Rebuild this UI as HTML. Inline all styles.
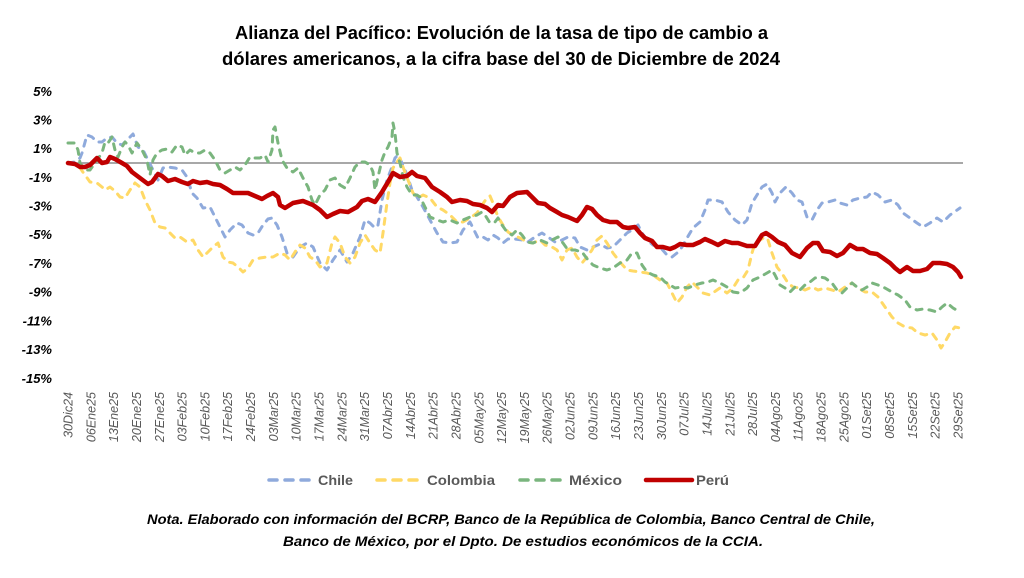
<!DOCTYPE html>
<html><head><meta charset="utf-8"><style>
html,body{margin:0;padding:0;background:#fff;}
svg{display:block;}
</style></head><body>
<svg width="1024" height="578" viewBox="0 0 1024 578" xmlns="http://www.w3.org/2000/svg">
<rect width="1024" height="578" fill="#fff"/>
<g font-family="'Liberation Sans', Arial, sans-serif" font-weight="bold" fill="#000">
<text x="235" y="39" font-size="18" textLength="533" lengthAdjust="spacingAndGlyphs">Alianza del Pacífico: Evolución de la tasa de tipo de cambio a</text>
<text x="222" y="65" font-size="18" textLength="558" lengthAdjust="spacingAndGlyphs">dólares americanos, a la cifra base del 30 de Diciembre de 2024</text>
</g>
<g font-family="'Liberation Sans', Arial, sans-serif" font-weight="bold" font-style="italic" font-size="13" fill="#000" text-anchor="end">
<text x="52" y="96">5%</text>
<text x="52" y="124.5">3%</text>
<text x="52" y="153">1%</text>
<text x="52" y="182">-1%</text>
<text x="52" y="210.5">-3%</text>
<text x="52" y="239">-5%</text>
<text x="52" y="268">-7%</text>
<text x="52" y="296.5">-9%</text>
<text x="52" y="325.5">-11%</text>
<text x="52" y="354">-13%</text>
<text x="52" y="383">-15%</text>
</g>
<g font-family="'Liberation Sans', Arial, sans-serif" font-style="italic" font-size="12.5" fill="#595959" text-anchor="end">
<text transform="translate(72.5,392) rotate(-90)">30Dic24</text>
<text transform="translate(95.3,392) rotate(-90)">06Ene25</text>
<text transform="translate(118.1,392) rotate(-90)">13Ene25</text>
<text transform="translate(141,392) rotate(-90)">20Ene25</text>
<text transform="translate(163.8,392) rotate(-90)">27Ene25</text>
<text transform="translate(186.6,392) rotate(-90)">03Feb25</text>
<text transform="translate(209.4,392) rotate(-90)">10Feb25</text>
<text transform="translate(232.2,392) rotate(-90)">17Feb25</text>
<text transform="translate(255.1,392) rotate(-90)">24Feb25</text>
<text transform="translate(277.9,392) rotate(-90)">03Mar25</text>
<text transform="translate(300.7,392) rotate(-90)">10Mar25</text>
<text transform="translate(323.5,392) rotate(-90)">17Mar25</text>
<text transform="translate(346.3,392) rotate(-90)">24Mar25</text>
<text transform="translate(369.2,392) rotate(-90)">31Mar25</text>
<text transform="translate(392,392) rotate(-90)">07Abr25</text>
<text transform="translate(414.8,392) rotate(-90)">14Abr25</text>
<text transform="translate(437.6,392) rotate(-90)">21Abr25</text>
<text transform="translate(460.4,392) rotate(-90)">28Abr25</text>
<text transform="translate(483.3,392) rotate(-90)">05May25</text>
<text transform="translate(506.1,392) rotate(-90)">12May25</text>
<text transform="translate(528.9,392) rotate(-90)">19May25</text>
<text transform="translate(551.7,392) rotate(-90)">26May25</text>
<text transform="translate(574.5,392) rotate(-90)">02Jun25</text>
<text transform="translate(597.4,392) rotate(-90)">09Jun25</text>
<text transform="translate(620.2,392) rotate(-90)">16Jun25</text>
<text transform="translate(643,392) rotate(-90)">23Jun25</text>
<text transform="translate(665.8,392) rotate(-90)">30Jun25</text>
<text transform="translate(688.6,392) rotate(-90)">07Jul25</text>
<text transform="translate(711.5,392) rotate(-90)">14Jul25</text>
<text transform="translate(734.3,392) rotate(-90)">21Jul25</text>
<text transform="translate(757.1,392) rotate(-90)">28Jul25</text>
<text transform="translate(779.9,392) rotate(-90)">04Ago25</text>
<text transform="translate(802.7,392) rotate(-90)">11Ago25</text>
<text transform="translate(825.6,392) rotate(-90)">18Ago25</text>
<text transform="translate(848.4,392) rotate(-90)">25Ago25</text>
<text transform="translate(871.2,392) rotate(-90)">01Set25</text>
<text transform="translate(894,392) rotate(-90)">08Set25</text>
<text transform="translate(916.8,392) rotate(-90)">15Set25</text>
<text transform="translate(939.7,392) rotate(-90)">22Set25</text>
<text transform="translate(962.5,392) rotate(-90)">29Set25</text>
</g>
<line x1="68" y1="163" x2="963" y2="163" stroke="#8c8c8c" stroke-width="1.5"/>
<g fill="none" stroke-linejoin="round" stroke-linecap="round">
<polyline stroke="#8FAADC" stroke-width="3" stroke-dasharray="6 7" points="68,163 75,162 80,158 82,153 87,135 92,137 97,142 102,142 107,138 112,137 117,143 122,145 127,140 133,134 138,147 143,150 148,160 153,170 158,180 163,168 168,167 175,168 182,170 187,177 192,193 197,198 203,208 210,207 215,217 220,227 225,237 230,230 237,223 242,225 248,233 253,235 258,233 263,225 268,219 272,218 277,225 282,237 287,253 293,257 300,247 307,243 313,247 320,263 327,270 333,260 340,250 347,262 353,253 360,237 365,220 370,223 375,228 378,225 382,200 387,180 392,167 395,158 398,155 402,163 407,175 412,190 417,197 423,207 430,220 437,233 443,242 450,243 457,242 463,230 470,222 475,232 478,238 483,237 488,240 493,235 498,238 503,243 508,239 515,239 522,240 528,242 535,237 542,233 548,237 555,242 562,240 568,237 575,238 580,247 587,250 593,247 600,244 607,248 613,247 620,240 627,233 632,230 638,225 642,233 647,240 653,245 660,247 667,255 672,257 677,253 682,247 687,238 693,228 700,222 705,210 708,200 715,200 722,202 728,212 735,220 742,225 747,220 752,203 757,195 762,187 767,184 772,193 775,202 780,193 786,187 792,193 797,200 802,202 807,217 812,220 817,210 822,203 828,202 835,200 840,203 847,205 853,200 860,198 867,197 872,192 878,195 885,202 892,200 898,205 903,213 910,218 917,223 923,227 930,223 937,218 943,222 950,215 960,208"/>
<polyline stroke="#FFD966" stroke-width="3" stroke-dasharray="6 7" points="68,163 73,164 78,165 85,175 90,182 97,183 102,187 105,190 110,187 115,191 120,197 125,198 130,190 135,183 140,187 145,200 150,210 155,223 160,227 165,228 170,233 175,238 180,237 187,242 193,240 198,250 203,257 208,252 213,247 218,243 223,257 228,262 233,263 238,267 243,272 248,268 253,260 260,258 267,257 273,257 280,253 285,255 290,260 295,252 300,245 305,248 310,257 315,260 320,267 327,263 332,243 335,237 340,243 345,257 350,263 355,257 360,243 365,235 370,243 375,250 380,253 383,233 387,203 390,183 393,168 397,162 400,158 403,167 408,180 413,193 418,198 423,195 430,198 437,207 443,210 450,215 457,222 463,222 470,218 477,213 482,205 487,198 490,196 493,203 498,217 503,225 508,232 513,235 520,238 527,242 533,243 540,240 545,245 552,247 557,250 562,260 567,250 572,248 577,257 582,263 587,257 592,250 597,240 602,236 607,243 613,253 620,262 627,270 633,271 640,272 647,273 653,275 660,280 667,283 672,293 677,303 682,297 687,287 692,282 697,287 703,293 710,295 717,290 720,288 727,293 733,288 738,280 743,278 748,270 752,253 755,243 760,240 765,237 768,240 772,253 777,267 783,275 788,283 793,287 800,288 805,290 812,287 818,290 825,288 832,290 838,292 845,287 852,283 858,288 865,292 872,292 878,297 885,307 892,317 898,323 905,327 912,328 918,333 925,335 932,333 937,340 941,348 945,342 950,333 955,327 960,328"/>
<polyline stroke="#7AB57E" stroke-width="3" stroke-dasharray="6 7" points="68,143 75,143 78,150 80,163 85,170 90,170 97,160 102,153 105,142 108,143 112,137 115,150 118,157 122,147 125,142 128,145 132,153 137,143 142,150 147,160 150,175 153,160 157,153 162,150 167,149 172,152 177,145 182,147 185,155 190,150 195,153 200,153 205,150 210,153 215,160 220,170 225,173 230,170 235,167 240,170 245,165 250,157 255,158 260,158 265,155 268,162 272,150 273,130 275,127 278,143 282,160 287,168 293,172 298,168 303,178 308,187 312,200 315,205 320,195 325,190 330,180 335,178 340,185 345,188 350,178 355,167 360,162 365,162 370,165 373,172 375,190 378,177 382,160 385,152 388,147 392,137 393,123 395,133 397,153 400,163 403,177 407,187 412,195 417,195 420,197 425,207 430,217 437,220 443,222 450,220 457,223 463,220 470,217 477,215 482,212 485,215 490,223 495,222 498,218 502,225 507,232 512,235 517,230 522,235 527,242 533,243 540,240 547,243 552,240 558,237 563,243 568,250 575,250 582,252 588,260 593,265 600,268 607,270 613,268 620,263 627,260 632,253 637,253 642,265 647,272 653,275 660,277 665,282 670,285 675,288 682,287 688,288 695,285 702,283 708,282 713,280 720,283 727,287 733,292 740,293 747,288 753,280 760,277 767,273 772,270 775,275 780,285 785,288 790,292 795,287 800,290 805,285 810,282 815,278 820,277 825,278 832,283 837,290 842,293 847,288 852,283 857,287 862,290 867,287 872,283 878,285 885,288 892,292 898,295 905,300 910,307 917,310 923,309 930,310 937,312 942,307 947,303 953,308 960,312"/>
<polyline stroke="#C00000" stroke-width="4.5" points="68,163 75,164 80,167 85,167 90,165 97,158 102,163 107,162 110,157 115,159 122,163 127,166 132,172 140,178 148,184 152,182 158,174 162,176 168,181 175,179 182,182 188,184 193,181 200,183 207,182 213,184 220,185 227,189 233,193 240,193 248,193 255,196 262,199 267,196 273,193 278,197 280,205 285,208 293,203 303,201 313,205 320,210 327,217 333,214 340,211 348,212 357,207 362,201 368,199 375,202 382,192 388,182 393,173 400,177 407,176 412,172 417,176 425,178 432,187 440,192 447,197 452,202 460,200 467,201 473,204 480,205 487,208 492,212 498,205 503,206 510,197 517,193 527,192 533,198 538,203 545,204 550,208 557,212 562,215 568,217 577,221 582,215 587,207 592,209 597,215 603,220 610,222 617,222 623,227 628,228 635,227 640,233 645,238 652,241 657,247 663,247 670,249 675,247 680,244 687,245 693,245 700,242 705,239 712,242 718,245 725,241 732,243 738,243 747,246 755,246 762,235 766,233 772,237 778,242 785,245 792,253 800,257 807,248 813,243 818,243 823,251 830,252 837,256 843,253 850,245 857,249 863,249 870,253 877,254 883,258 890,263 895,268 900,272 907,267 913,271 920,271 927,269 933,263 940,263 947,264 953,267 958,272 961,277"/>
</g>
<g stroke-linecap="round">
<line x1="269" y1="480" x2="309" y2="480" stroke="#8FAADC" stroke-width="3.5" stroke-dasharray="8 8"/>
<line x1="377" y1="480" x2="417" y2="480" stroke="#FFD966" stroke-width="3.5" stroke-dasharray="8 8"/>
<line x1="520" y1="480" x2="560" y2="480" stroke="#7AB57E" stroke-width="3.5" stroke-dasharray="8 8"/>
<line x1="646" y1="480" x2="692" y2="480" stroke="#C00000" stroke-width="4.5"/>
</g>
<g font-family="'Liberation Sans', Arial, sans-serif" font-weight="bold" font-size="14" fill="#595959">
<text x="318" y="485" textLength="35" lengthAdjust="spacingAndGlyphs">Chile</text>
<text x="427" y="485" textLength="68" lengthAdjust="spacingAndGlyphs">Colombia</text>
<text x="569" y="485" textLength="53" lengthAdjust="spacingAndGlyphs">México</text>
<text x="696" y="485" textLength="33" lengthAdjust="spacingAndGlyphs">Perú</text>
</g>
<g font-family="'Liberation Sans', Arial, sans-serif" font-weight="bold" font-style="italic" font-size="14" fill="#000">
<text x="147" y="524" textLength="728" lengthAdjust="spacingAndGlyphs">Nota. Elaborado con información del BCRP, Banco de la República de Colombia, Banco Central de Chile,</text>
<text x="283" y="546" textLength="480" lengthAdjust="spacingAndGlyphs">Banco de México, por el Dpto. De estudios económicos de la CCIA.</text>
</g>
</svg>
</body></html>
